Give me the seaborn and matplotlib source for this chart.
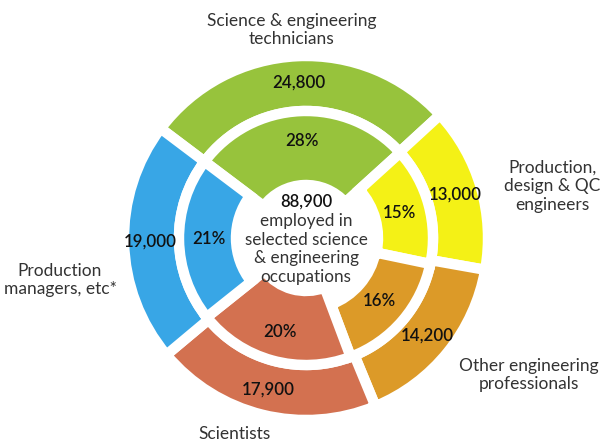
import matplotlib
matplotlib.use("Agg")
import matplotlib.pyplot as plt
import seaborn as sns
import numpy as np

# ---- data ----
categories = ["Science & engineering\ntechnicians",
              "Production,\ndesign & QC\nengineers",
              "Other engineering\nprofessionals",
              "Scientists",
              "Production\nmanagers, etc*"]
counts = [24800, 13000, 14200, 17900, 19000]
shares = [28, 15, 16, 20, 21]
count_labels = ["24,800", "13,000", "14,200", "17,900", "19,000"]
share_labels = ["28%", "15%", "16%", "20%", "21%"]
total_label = "88,900"
center_text = "employed in\nselected science\n& engineering\noccupations"

# ---- style / layout ----
sns.set_theme(style="white")
plt.rcParams["font.family"] = ["Lato", "DejaVu Sans"]
colors = sns.color_palette(["#97C33C", "#F4F116", "#DC9A28", "#D37150", "#38A6E6"])
cx, cy = 306, 204
edge_lw = 7.5  # points (~10 px white gaps)
inner_hole = [53, 72, 71, 53, 70]          # inner radius of inner ring per wedge
label_pos = [(292, 412), (552, 256), (529, 67), (235, 8), (60, 162)]

fig = plt.figure(figsize=(6.01, 4.42), dpi=100)
ax = fig.add_axes([0, 0, 1, 1])

wedges_out, _ = ax.pie(counts, radius=182, center=(cx, cy), startangle=143,
                       counterclock=False, colors=colors,
                       wedgeprops=dict(width=55, edgecolor="white", linewidth=edge_lw))
wedges_in, _ = ax.pie(shares, radius=127, center=(cx, cy), startangle=143,
                      counterclock=False, colors=colors,
                      wedgeprops=dict(width=56, edgecolor="white", linewidth=edge_lw))
for w, r_in in zip(wedges_in, inner_hole):
    w.set_width(127 - r_in)

for w, lab in zip(wedges_out, count_labels):
    a = np.deg2rad((w.theta1 + w.theta2) / 2)
    ax.text(cx + 156 * np.cos(a), cy + 156 * np.sin(a), lab, ha="center", va="center",
            fontsize=12.2, fontweight="semibold", color="#111111")
for w, lab in zip(wedges_in, share_labels):
    a = np.deg2rad((w.theta1 + w.theta2) / 2)
    ax.text(cx + 97 * np.cos(a), cy + 97 * np.sin(a), lab, ha="center", va="center",
            fontsize=12.2, fontweight="semibold", color="#111111")

for lab, (x, y) in zip(categories, label_pos):
    ax.text(x, y, lab, ha="center", va="center", fontsize=12.5, color="#333333",
            linespacing=1.22)

ax.text(cx, 442 - 202, total_label, ha="center", va="center", fontsize=12,
        fontweight="semibold", color="#111111")
ax.text(cx, 442 - 249, center_text, ha="center", va="center", fontsize=12.3,
        color="#333333", linespacing=1.22)

ax.set_xlim(0, 601)
ax.set_ylim(0, 442)
ax.set_aspect("equal")
ax.axis("off")
fig.savefig("out.png", dpi=100, facecolor="white")
